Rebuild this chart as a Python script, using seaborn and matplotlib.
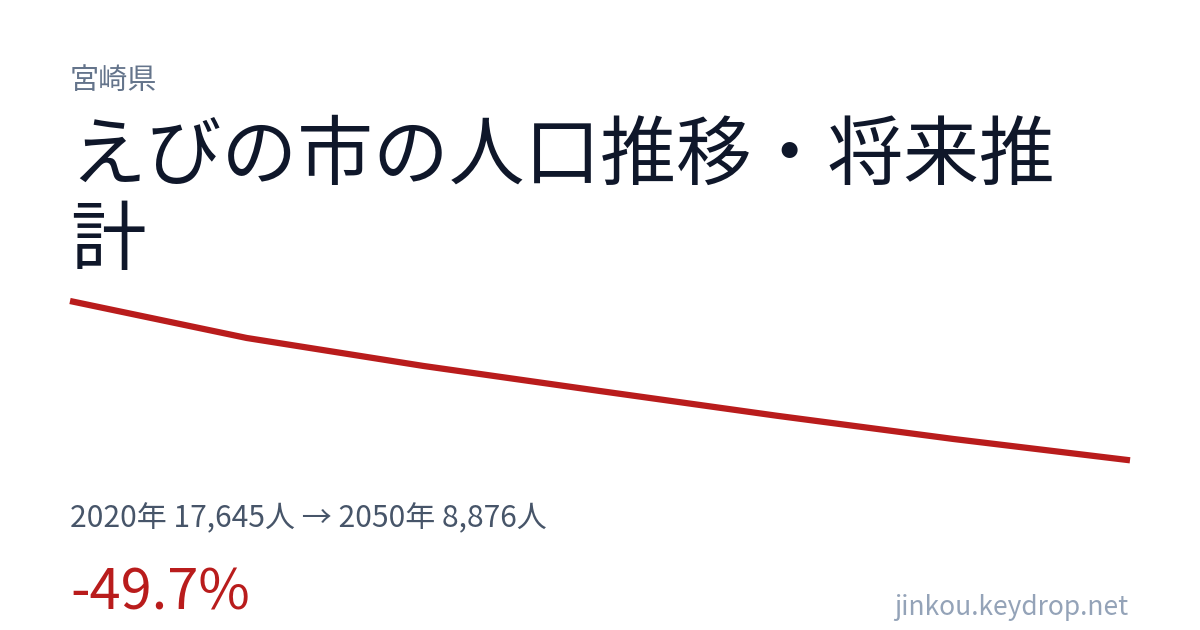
import pandas as pd
import numpy as np
import matplotlib
matplotlib.use('Agg')
import matplotlib.pyplot as plt
import seaborn as sns

# data (population, every 5 years)
years = [2020, 2025, 2030, 2035, 2040, 2045, 2050]
population = [17645, 15610, 14070, 12690, 11330, 10050, 8876]

pref = '宮崎県'
title_lines = ['えびの市の人口推移・将来推', '計']
stats = '2020年 17,645人 → 2050年 8,876人'
change = '-49.7%'
site = 'jinkou.keydrop.net'

df = pd.DataFrame({'year': years, 'pop': population})

sns.set_theme(style='white')
plt.rcParams['font.family'] = ['Noto Sans CJK JP', 'DejaVu Sans']

W, H = 1200, 630
fig = plt.figure(figsize=(W / 100, H / 100), dpi=100)
fig.patch.set_facecolor('white')

# plot area: x 70..1130, y 301..460 px
ax = fig.add_axes([70 / W, 1 - 460.3 / H, 1060 / W, 159.3 / H])
sns.lineplot(data=df, x='year', y='pop', ax=ax, color='#b91c1c',
             linewidth=4.5, clip_on=False, solid_capstyle='butt')
ax.set_xlim(min(years), max(years))
ax.set_ylim(min(population), max(population))
ax.set_axis_off()

def px(x, y):
    return x / W, 1 - y / H

fig.text(*px(70, 89), pref, fontsize=21, color='#64748b', va='baseline')
for i, line in enumerate(title_lines):
    fig.text(*px(70, 179 + 85 * i), line, fontsize=54.5, color='#0f172a',
             va='baseline')
fig.text(*px(70, 527), stats, fontsize=21.6, color='#475569', va='baseline')
fig.text(*px(70, 609), change, fontsize=40.3, color='#b91c1c', va='baseline')
fig.text(*px(1128, 615), site, fontsize=19, color='#94a3b8', va='baseline',
         ha='right')

fig.savefig('out.png', dpi=100, facecolor='white')
